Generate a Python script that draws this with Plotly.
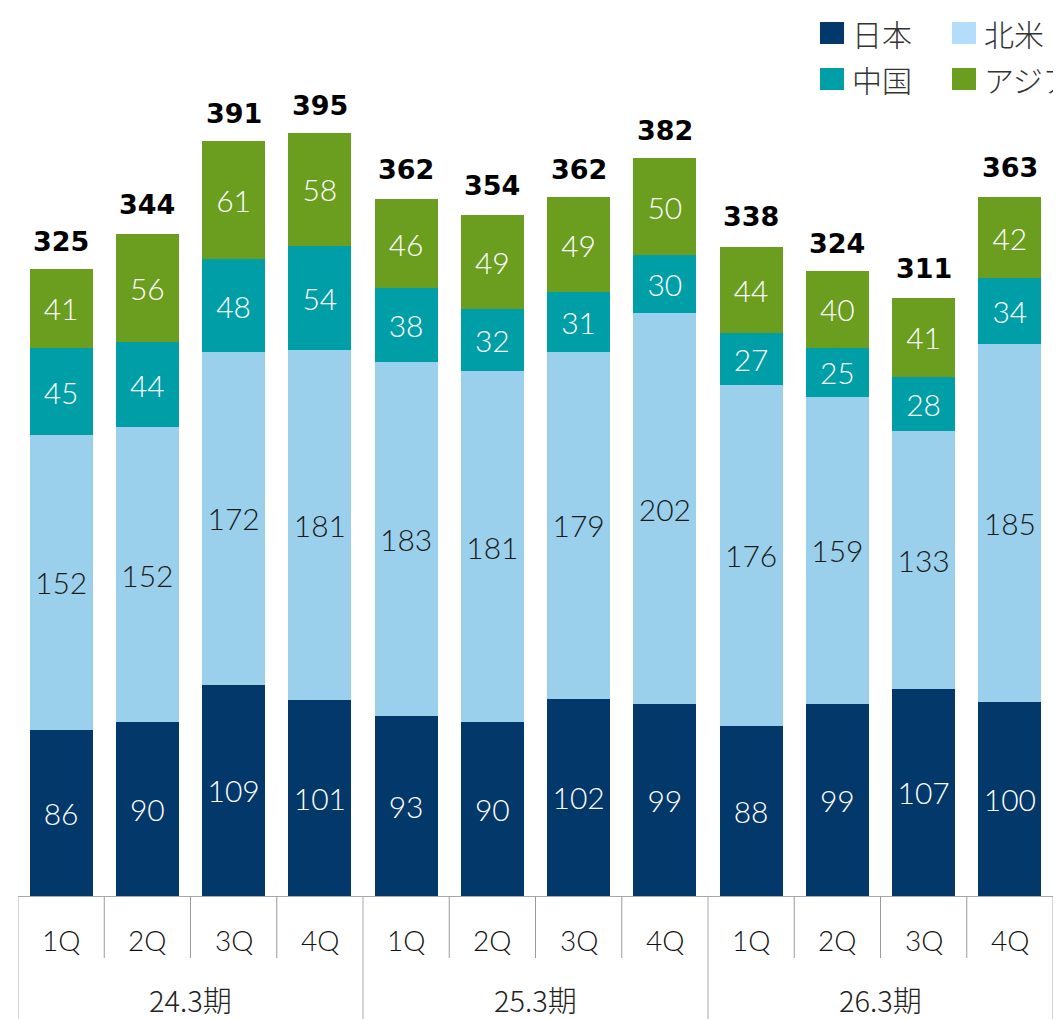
import plotly.graph_objects as go

quarters = ["1Q", "2Q", "3Q", "4Q"] * 3
years = ["24.3期", "25.3期", "26.3期"]
japan = [86, 90, 109, 101, 93, 90, 102, 99, 88, 99, 107, 100]
north_america = [152, 152, 172, 181, 183, 181, 179, 202, 176, 159, 133, 185]
china = [45, 44, 48, 54, 38, 32, 31, 30, 27, 25, 28, 34]
asia = [41, 56, 61, 58, 46, 49, 49, 50, 44, 40, 41, 42]
totals = [325, 344, 391, 395, 362, 354, 362, 382, 338, 324, 311, 363]

series = [
    ("日本", japan, "#03386A", "white"),
    ("北米", north_america, "#9BD0EC", "#1A1A1A"),
    ("中国", china, "#009FA8", "white"),
    ("アジア", asia, "#6B9E1F", "white"),
]
legend_colors = {"日本": "#03386A", "北米": "#B3DDFB", "中国": "#009FA8", "アジア": "#6B9E1F"}

# page offset (browser body margin)
OFF = 8
W, H = 1061 - OFF, 1019 - OFF
L, R, T = 18 - OFF, 8, 0
AXIS_Y = 896 - OFF          # axis baseline in figure pixels
B = H - AXIS_Y
plot_w = W - L - R
plot_h = H - T - B
PX_PER_UNIT = 1.936
ymax = plot_h / PX_PER_UNIT

LABEL_FONT = "Lato, 'Open Sans', sans-serif"
CJK_FONT = "'Noto Sans CJK JP', sans-serif"

x = list(range(len(quarters)))

fig = go.Figure()
for name, vals, color, tcolor in series:
    fig.add_trace(go.Bar(
        x=x, y=vals, name=name,
        marker=dict(color=color, line=dict(width=0)),
        text=vals, texttemplate="%{text}",
        textposition="inside", insidetextanchor="middle",
        textangle=0, constraintext="none",
        textfont=dict(family=LABEL_FONT, size=30, color=tcolor, weight=300),
        showlegend=False,
        hoverinfo="skip",
    ))


def py(refy):
    """reference pixel y (from top of window) -> paper y"""
    return (AXIS_Y - (refy - OFF)) / plot_h


def px(refx):
    return (refx - OFF - L) / plot_w


annotations = []
# Totals on top
for i, t in enumerate(totals):
    annotations.append(dict(
        x=i, y=t, xref="x", yref="y", text=f"<b>{t}</b>",
        showarrow=False, yanchor="bottom", yshift=8,
        font=dict(family="'DejaVu Sans', sans-serif", size=27, color="black"),
    ))

# Quarter labels
for i, q in enumerate(quarters):
    annotations.append(dict(
        x=i, y=py(940), xref="x", yref="paper", text=q, showarrow=False,
        yanchor="middle", font=dict(family=LABEL_FONT, size=28, color="#111", weight=300),
    ))
# Year labels
for g, yl in enumerate(years):
    annotations.append(dict(
        x=g * 4 + 1.5, y=py(999), xref="x", yref="paper", text=yl, showarrow=False,
        yanchor="middle", font=dict(family=CJK_FONT, size=29, color="#222", weight=300),
    ))

shapes = []
# Quarter separators
for i in range(len(quarters) - 1):
    if (i + 1) % 4 == 0:
        continue
    shapes.append(dict(type="line", xref="x", yref="paper",
                       x0=i + 0.5, x1=i + 0.5, y0=0, y1=py(958),
                       line=dict(color="#9A9A9A", width=1)))
# Group separators
for g in range(len(years) + 1):
    xx = g * 4 - 0.5
    shapes.append(dict(type="line", xref="x", yref="paper",
                       x0=xx, x1=xx, y0=0, y1=py(1025),
                       line=dict(color="#A8A8A8", width=1)))

# Manual legend (2x2)
legend_items = [("日本", 820, 33), ("北米", 952, 33), ("中国", 820, 79), ("アジア", 952, 79)]
for name, lx, ly in legend_items:
    shapes.append(dict(type="rect", xref="paper", yref="paper",
                       x0=px(lx), x1=px(lx + 24), y0=py(ly - 11), y1=py(ly + 11),
                       fillcolor=legend_colors[name], line=dict(width=0)))
    annotations.append(dict(
        x=px(lx + 30), y=py(ly), xref="paper", yref="paper", text=name,
        showarrow=False, xanchor="left", yanchor="middle",
        font=dict(family=CJK_FONT, size=30, color="#333", weight=300),
    ))

fig.update_layout(
    width=W, height=H,
    margin=dict(l=L, r=R, t=T, b=B, autoexpand=False),
    barmode="stack", bargap=0.27,
    plot_bgcolor="white", paper_bgcolor="white",
    xaxis=dict(range=[-0.5, len(quarters) - 0.5], showticklabels=False, showgrid=False,
               zeroline=False, showline=True, linecolor="#A8A8A8", linewidth=1,
               fixedrange=True),
    yaxis=dict(range=[0, ymax], visible=False, fixedrange=True),
    annotations=annotations,
    shapes=shapes,
    showlegend=False,
)

fig.write_html("out.html", config={"displayModeBar": False})
